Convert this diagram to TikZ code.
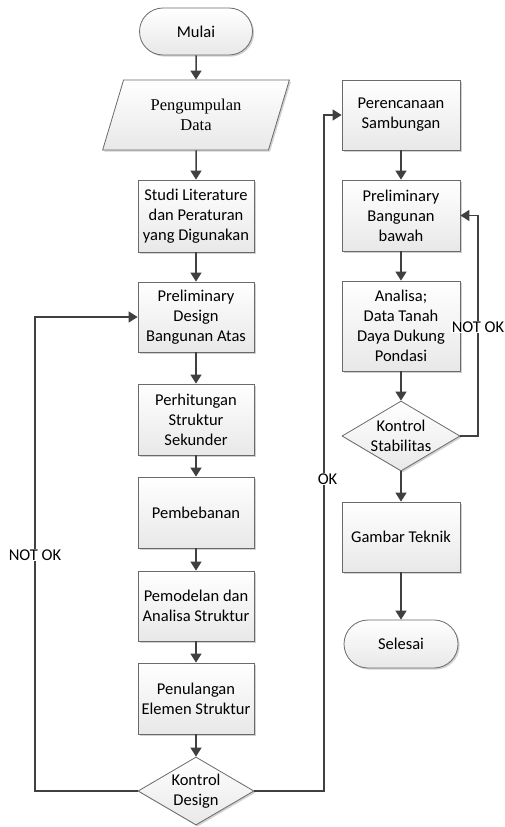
\documentclass[tikz,border=0pt]{standalone}
\usepackage{fontspec}
\setmainfont{Carlito}
\newfontfamily\serifdata{Liberation Serif}
\usetikzlibrary{shapes.geometric,shapes.misc,arrows.meta,shadows}
\definecolor{linec}{HTML}{404040}
\definecolor{borderc}{HTML}{6A6A6A}
\begin{document}
\begin{tikzpicture}[x=1pt,y=1pt,
  base/.style={draw=borderc, line width=0.8pt, top color=white, bottom color=black!9,
    align=center, font=\fontsize{16.5}{20}\selectfont, inner sep=2pt,
    drop shadow={shadow xshift=1.6pt, shadow yshift=-1.6pt, opacity=0.3, fill=black!60}},
  proc/.style={base, rectangle, minimum width=116pt, minimum height=70pt},
  term/.style={base, rounded rectangle, minimum width=117pt, minimum height=47pt},
  io/.style={base, trapezium, trapezium left angle=69, trapezium right angle=111,
    trapezium stretches=true, minimum width=187pt, minimum height=70pt,
    font=\serifdata\fontsize{16.5}{20}\selectfont},
  dec/.style={base, diamond, minimum width=116pt, minimum height=68pt, aspect=1.7, inner sep=0pt},
  arr/.style={draw=linec, line width=1.5pt, -{Triangle[length=9pt,width=11pt]}},
  lab/.style={fill=white, inner sep=1pt, font=\fontsize{16.5}{20}\selectfont}]
\useasboundingbox (0,0) rectangle (505,-827);

\node[term] (mulai) at (196,-31.5) {Mulai};
\node[io] (data) at (196,-115) {Pengumpulan\\Data};
\node[proc, minimum height=72pt] (studi) at (196,-216) {Studi Literature\\dan Peraturan\\yang Digunakan};
\node[proc] (pda) at (196,-317) {Preliminary\\Design\\Bangunan Atas};
\node[proc, minimum height=71pt] (hit) at (196,-419.5) {Perhitungan\\Struktur\\Sekunder};
\node[proc, minimum height=71pt] (beban) at (196,-512.5) {Pembebanan};
\node[proc] (model) at (196,-606) {Pemodelan dan\\Analisa Struktur};
\node[proc, minimum height=71pt] (tulang) at (196,-698.5) {Penulangan\\Elemen Struktur};
\node[dec] (kd) at (196,-791) {Kontrol\\Design};

\node[proc, minimum width=118pt] (renc) at (401,-115) {Perencanaan\\Sambungan};
\node[proc, minimum width=118pt, minimum height=71pt] (pbb) at (401,-215.5) {Preliminary\\Bangunan\\bawah};
\node[proc, minimum width=118pt, minimum height=90pt] (analisa) at (401,-326) {Analisa;\\Data Tanah\\Daya Dukung\\Pondasi};
\node[dec, minimum width=118pt, minimum height=70pt] (ks) at (401,-436) {Kontrol\\Stabilitas};
\node[proc, minimum width=118pt] (gt) at (401,-537) {Gambar Teknik};
\node[term, minimum width=118pt, minimum height=48pt] (selesai) at (401,-644) {Selesai};

\coordinate (nl) at (35,-791);
\coordinate (okc) at (324,-791);
\coordinate (nr) at (478,-436);

\draw[arr] (mulai) -- (data);
\draw[arr] (data) -- (studi);
\draw[arr] (studi) -- (pda);
\draw[arr] (pda) -- (hit);
\draw[arr] (hit) -- (beban);
\draw[arr] (beban) -- (model);
\draw[arr] (model) -- (tulang);
\draw[arr] (tulang) -- (kd);
\draw[arr] (kd.west) -- (nl) |- (pda.west);
\draw[arr] (kd.east) -- (okc) |- (renc.west);
\draw[arr] (renc) -- (pbb);
\draw[arr] (pbb) -- (analisa);
\draw[arr] (analisa) -- (ks);
\draw[arr] (ks) -- (gt);
\draw[arr] (gt) -- (selesai);
\draw[arr] (ks.east) -- (nr) |- (pbb.east);

\node[lab] (lnl) at (35,-555) {NOT OK};
\node[lab] (lok) at (327.5,-479) {OK};
\node[lab] (lnr) at (478,-327) {NOT OK};
\end{tikzpicture}
\end{document}
